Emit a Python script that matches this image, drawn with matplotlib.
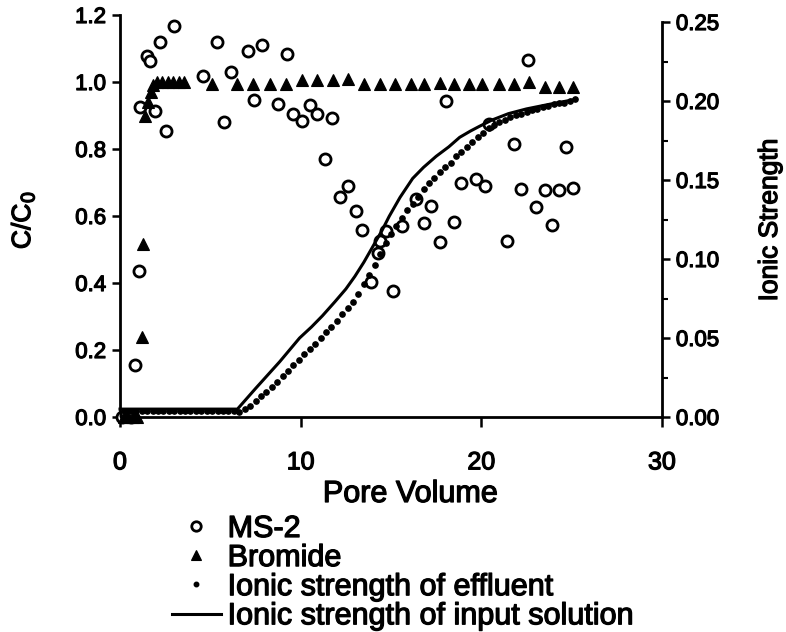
import matplotlib
matplotlib.use("Agg")
import matplotlib.pyplot as plt
import matplotlib.patheffects as pe
from matplotlib.text import Text

plt.rcParams['font.family'] = ['Liberation Sans', 'DejaVu Sans']

# ---------------- data ----------------
ms2_pv = [0.1, 0.35, 0.6, 0.83, 1.05, 1.10, 1.49, 1.66, 1.93, 2.21, 2.54, 2.98,
          4.59, 5.36, 5.75, 6.13, 7.07, 7.40, 7.85, 8.73, 9.23, 9.56, 10.06, 10.5,
          10.88, 11.33, 11.71, 12.15, 12.6, 13.04, 13.4, 13.9, 14.3, 14.4, 14.7,
          15.1, 15.6, 16.4, 16.85, 17.2, 17.7, 18.07, 18.5, 18.9, 19.7, 20.2, 20.4,
          21.4, 21.8, 22.2, 22.6, 23.0, 23.5, 23.9, 24.3, 24.7, 25.1]
ms2_cc0 = [0.0, 0.005, 0.0, 0.155, 0.436, 0.925, 1.078, 1.063, 0.913, 1.12, 0.854, 1.167,
           1.018, 1.12, 0.881, 1.03, 1.093, 0.946, 1.11, 0.934, 1.084, 0.904, 0.884, 0.931,
           0.904, 0.770, 0.893, 0.657, 0.69, 0.615, 0.558, 0.403, 0.49, 0.525, 0.555,
           0.376, 0.57, 0.65, 0.579, 0.63, 0.522, 0.943, 0.582, 0.70, 0.71, 0.69, 0.875,
           0.525, 0.815, 0.68, 1.066, 0.627, 0.678, 0.573, 0.678, 0.805, 0.683]

br_pv = [0.2, 0.45, 0.7, 0.95, 1.2, 1.27, 1.4, 1.55, 1.7, 1.85, 2.05, 2.35, 2.65, 2.95,
         3.25, 3.55, 5.08, 6.46, 7.35, 8.29, 9.2, 10.06, 10.88, 11.77, 12.6, 13.5, 14.4,
         15.2, 16.1, 16.85, 17.7, 18.5, 19.3, 20.05, 21.0, 21.8, 22.65, 23.5, 24.3, 25.1]
br_cc0 = [0.0, 0.0, 0.0, 0.0, 0.239, 0.516, 0.90, 0.94, 0.97, 0.99, 1.0, 1.0, 1.0, 1.0,
          1.0, 1.0, 0.994, 0.993, 0.993, 0.993, 0.995, 1.005, 1.005, 1.005, 1.008, 0.995, 0.995,
          0.995, 0.995, 0.995, 0.998, 0.995, 0.995, 0.995, 0.995, 0.995, 1.0, 0.985, 0.985, 0.985]

eff_pv = [0.3, 0.6, 0.9, 1.2, 1.5, 1.8, 2.1, 2.4, 2.7, 3.0, 3.3, 3.6, 3.9, 4.2, 4.5, 4.8,
          5.1, 5.4, 5.7, 6.0, 6.3, 6.6, 6.9, 7.2, 7.5, 7.8, 8.1, 8.4, 8.7, 9.0, 9.3, 9.6,
          9.9, 10.2, 10.5, 10.8, 11.1, 11.4, 11.7, 12.0, 12.3, 12.6, 12.9, 13.2, 13.5, 13.8,
          14.1, 14.4, 14.7, 15.0, 15.3, 15.6, 15.9, 16.2, 16.5, 16.8, 17.1, 17.4, 17.7, 18.0,
          18.3, 18.6, 18.9, 19.2, 19.5, 19.8, 20.1, 20.4, 20.7, 21.0, 21.3, 21.6, 21.9, 22.2,
          22.5, 22.8, 23.1, 23.4, 23.7, 24.0, 24.3, 24.6, 24.9, 25.2]
eff_is = [0.004, 0.004, 0.004, 0.004, 0.004, 0.004, 0.004, 0.004, 0.004, 0.004, 0.004, 0.004,
          0.004, 0.004, 0.004, 0.004, 0.004, 0.004, 0.004, 0.004, 0.004, 0.003, 0.005, 0.007,
          0.010, 0.013, 0.016, 0.019, 0.022, 0.026, 0.029, 0.033, 0.036, 0.040, 0.043, 0.046,
          0.050, 0.054, 0.057, 0.061, 0.065, 0.069, 0.073, 0.078, 0.084, 0.090, 0.096, 0.103,
          0.110, 0.116, 0.121, 0.126, 0.131, 0.135, 0.139, 0.144, 0.148, 0.151, 0.155, 0.158,
          0.161, 0.165, 0.168, 0.171, 0.174, 0.177, 0.180, 0.183, 0.185, 0.187, 0.188, 0.190,
          0.191, 0.192, 0.193, 0.194, 0.195, 0.196, 0.197, 0.198, 0.199, 0.199, 0.200, 0.201]

inp_pv = [0.0, 6.5, 7.5, 8.84, 9.94, 10.6, 11.2, 11.9, 12.5, 13.0, 13.5, 14.0, 14.5,
          14.9, 15.5, 16.2, 16.8, 17.5, 18.2, 18.8, 19.4, 19.9, 20.6, 21.5, 22.5,
          23.8, 25.2]
inp_is = [0.005, 0.005, 0.018, 0.035, 0.050, 0.057, 0.064, 0.073, 0.081, 0.089, 0.098,
          0.108, 0.118, 0.127, 0.139, 0.151, 0.158, 0.165, 0.171, 0.177, 0.181, 0.184,
          0.188, 0.192, 0.195, 0.198, 0.201]

x_ticks = [0, 10, 20, 30]
left_ticks = [0.0, 0.2, 0.4, 0.6, 0.8, 1.0, 1.2]
right_ticks = [0.00, 0.05, 0.10, 0.15, 0.20, 0.25]
right_minor = [0.025, 0.075, 0.125, 0.175, 0.225]

labels = ["MS-2", "Bromide", "Ionic strength of effluent", "Ionic strength of input solution"]

# ---------------- figure ----------------
W, H = 786, 632
fig = plt.figure(figsize=(W / 100, H / 100), dpi=100)
ax = fig.add_axes([120 / W, 1 - 417 / H, (662 - 120) / W, (417 - 15) / H])
ax2 = ax.twinx()

h_ms2, = ax.plot(ms2_pv, ms2_cc0, linestyle='none', marker='o', markersize=8,
                 markerfacecolor='white', markeredgecolor='black', markeredgewidth=2,
                 clip_on=False, zorder=3)
h_br, = ax.plot(br_pv, br_cc0, linestyle='none', marker='^', markersize=9,
                markerfacecolor='black', markeredgecolor='black', markeredgewidth=0.8,
                clip_on=False, zorder=4)
h_eff, = ax2.plot(eff_pv, eff_is, linestyle='none', marker='o', markersize=3.8,
                  color='black', clip_on=False, zorder=3)
h_inp, = ax2.plot(inp_pv, inp_is, color='black', linewidth=2.2, clip_on=False, zorder=3,
                  solid_joinstyle='round')

ax.set_xlim(0, 30)
ax.set_ylim(0, 1.2)
ax2.set_ylim(0, 0.25 * 402 / 395)

for a in (ax, ax2):
    a.spines['top'].set_visible(False)
ax.spines['right'].set_visible(False)
ax2.spines['left'].set_visible(False)
ax2.spines['bottom'].set_visible(False)
ax.spines['left'].set_bounds(0, 1.2)
ax2.spines['right'].set_bounds(0, 0.25)
for s in ('left', 'bottom'):
    ax.spines[s].set_linewidth(2.0)
ax2.spines['right'].set_linewidth(2.0)

ax.set_xticks(x_ticks)
ax.set_xticklabels([str(v) for v in x_ticks])
ax.set_yticks(left_ticks)
ax.set_yticklabels([f"{v:.1f}" for v in left_ticks])
ax2.set_yticks(right_ticks)
ax2.set_yticklabels([f"{v:.2f}" for v in right_ticks])
ax2.set_yticks(right_minor, minor=True)

ax.tick_params(axis='x', direction='out', length=7, width=1.8, pad=17, labelsize=18)
ax.tick_params(axis='y', direction='out', length=6, width=1.8, pad=4, labelsize=16)
ax2.tick_params(axis='y', which='major', direction='out', length=6, width=1.8, pad=4,
                labelsize=16)
ax2.tick_params(axis='y', which='minor', direction='out', length=4, width=1.5)

ax.set_xlabel("Pore Volume", fontsize=22)
ax.xaxis.set_label_coords((410 - 120) / 542, (417 - 494) / 402)
ax.xaxis.label.set_va('center')
ax.set_ylabel("C/C$_0$", fontsize=19)
ax.yaxis.set_label_coords((23 - 120) / 542, 0.49)
ax.yaxis.label.set_va('center')
ax2.set_ylabel("Ionic Strength", fontsize=19, rotation=90)
ax2.yaxis.set_label_coords((770 - 120) / 542, 0.49)
ax2.yaxis.label.set_va('center')

fig.legend([h_ms2, h_br, h_eff, h_inp], labels, loc='upper left',
           bbox_to_anchor=(172 / W, 1 - 514 / H), bbox_transform=fig.transFigure,
           frameon=False, fontsize=22, handlelength=1.6, handletextpad=0.22,
           labelspacing=-0.03, borderpad=0, borderaxespad=0, markerscale=0.85)

# heavier, scan-like text strokes
for t in fig.findobj(Text):
    t.set_path_effects([pe.withStroke(linewidth=0.9, foreground='black')])

fig.savefig("out.png", dpi=100)
